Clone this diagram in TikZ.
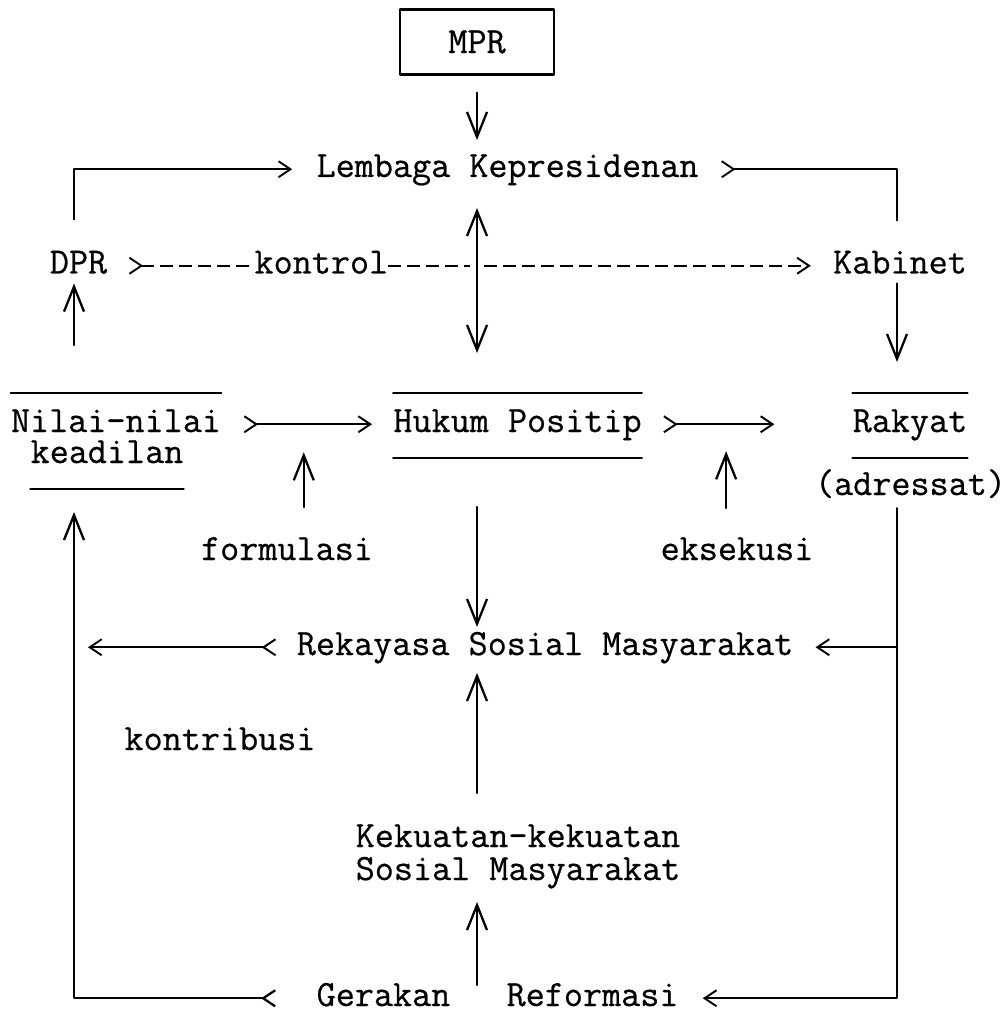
\documentclass[tikz,border=0pt]{standalone}
\usepackage{fontspec}
\usetikzlibrary{arrows.meta}

\newfontfamily\twfont{lmmono12-regular.otf}[FakeBold=0.6]
\newcommand{\typew}{\fontsize{21.1}{18}\selectfont\twfont}
\tikzset{
  chv/.tip={Straight Barb[length=2.4mm,width=3.2mm]},
  rchv/.tip={Straight Barb[reversed,length=2.4mm,width=3.2mm]},
  bigv/.tip={Straight Barb[length=5mm,width=4mm]}
}

\begin{document}
\begin{tikzpicture}[x=0.02cm, y=-0.02cm, line join=round, line cap=round,
    txt/.style={inner sep=0pt, anchor=base, text height=4.5mm, text depth=1.4mm, font=\typew},
    rule/.style={line width=1.2pt},
    varr/.style={line width=1.3pt, -bigv},
    dvarr/.style={line width=1.3pt, bigv-bigv},
    harr/.style={line width=1.1pt, rchv-chv},
    htip/.style={line width=1.1pt, -chv},
    htail/.style={line width=1.1pt, rchv-},
    dashl/.style={line width=1.1pt, dash pattern=on 2.6mm off 1.2mm, line cap=butt}]

  \useasboundingbox (0,0) rectangle (1006,1013);

  % columns
  \coordinate (lcol) at (74,0);
  \coordinate (rcol) at (897,0);

  % texts
  \node[draw, line width=1.4pt, minimum width=3.08cm, minimum height=1.3cm, font=\typew] (mpr) at (477,42) {MPR};
  \node[txt] (pres) at (507.5,177) {Lembaga Kepresidenan};
  \node[txt] (dpr) at (78.5,273.5) {DPR};
  \node[txt] (kab) at (900,273.5) {Kabinet};
  \node[txt] (nilai) at (116,432) {Nilai-nilai};
  \node[txt] (keadi) at (107,463) {keadilan};
  \node[txt] (hukum) at (517.5,432) {Hukum Positip};
  \node[txt] (rakyat) at (910,432) {Rakyat};
  \node[txt] (adres) at (910.5,495) {(adressat)};
  \node[txt] (formu) at (287,560) {formulasi};
  \node[txt] (eksek) at (737,560) {eksekusi};
  \node[txt] (rekay) at (545,655) {Rekayasa Sosial Masyarakat};
  \node[txt] (kontri) at (220,750) {kontribusi};
  \node[txt] (kekua) at (518,847) {Kekuatan-kekuatan};
  \node[txt] (sosma) at (518,880) {Sosial Masyarakat};
  \node[txt] (gerak) at (383.5,1006) {Gerakan};
  \node[txt] (refor) at (592.5,1006) {Reformasi};

  % rules round the boxes
  \draw[rule] ([yshift=7.8mm]nilai.base west) -- ([yshift=7.8mm]nilai.base east);
  \draw[rule] ([yshift=-5.2mm]keadi.base west) -- ([yshift=-5.2mm]keadi.base east);
  \draw[rule] ([yshift=7.8mm]hukum.base west) -- ([yshift=7.8mm]hukum.base east);
  \draw[rule] ([yshift=-5.2mm]hukum.base west) -- ([yshift=-5.2mm]hukum.base east);
  \draw[rule] ([yshift=7.8mm]rakyat.base west) -- ([yshift=7.8mm]rakyat.base east);
  \draw[rule] ([yshift=-5.2mm]rakyat.base west) -- ([yshift=-5.2mm]rakyat.base east);

  % top part
  \draw[varr, shorten <=3.4mm, shorten >=7.4mm] (mpr) -- (mpr |- pres.base);
  \draw[htip, shorten <=10.8mm, shorten >=4.8mm] (lcol |- dpr.base) |- (pres.west);
  \draw[htail, shorten <=4.4mm, shorten >=10.6mm] (pres.east) -| (rcol |- kab.base);
  \draw[dashl, rchv-, shorten <=4.2mm] (dpr.east) -- node[txt, anchor=center, fill=white, pos=0.59] (kontrol) {kontrol} ([xshift=-1.4mm]mpr |- dpr.east);
  \draw[dashl, -chv, shorten >=4.4mm] ([xshift=1.4mm]mpr |- kab.west) -- (kab.west);
  \draw[dvarr, shorten <=6.2mm, shorten >=15.8mm] (mpr |- pres.base) -- (mpr |- hukum.base);
  \draw[varr, shorten <=17.4mm, shorten >=2mm] (lcol |- nilai.base) -- (lcol |- dpr.base);
  \draw[varr, shorten <=2mm, shorten >=14mm] (rcol |- kab.base) -- (rcol |- rakyat.base);

  % middle row
  \draw[harr, shorten <=4.4mm, shorten >=4.2mm] (nilai.east) -- coordinate[pos=0.48] (fpt) (hukum.west);
  \draw[harr, shorten <=4.2mm, shorten >=15.6mm] (hukum.east) -- coordinate[pos=0.4] (ept) (rakyat.west);
  \draw[varr, shorten <=10.6mm, shorten >=5.6mm] (fpt |- formu.base) -- (fpt);
  \draw[varr, shorten <=10.4mm, shorten >=5.4mm] (ept |- eksek.base) -- (ept);
  \draw[varr, shorten <=15mm, shorten >=5.6mm] (mpr |- hukum.base) -- (mpr |- rekay.base);

  % lower part
  \draw[htip, shorten <=2.6mm, shorten >=4.8mm] (rcol |- adres.base) |- (refor.east);
  \draw[htip, shorten >=4.4mm] (rcol |- rekay.east) -- (rekay.east);
  \draw[harr, shorten <=4mm, shorten >=2.8mm] (rekay.west) -- (lcol |- rekay.west);
  \draw[line width=1.3pt, rchv-bigv, shorten <=8mm, shorten >=9.8mm] (gerak.west) -| (lcol |- keadi.base);
  \draw[varr, shorten <=10.8mm, shorten >=3.6mm] (mpr |- kekua.base) -- (mpr |- rekay.base);
  \draw[varr, shorten <=4.2mm, shorten >=4.4mm] (mpr |- gerak.base) -- (mpr |- sosma.base);
\end{tikzpicture}
\end{document}
